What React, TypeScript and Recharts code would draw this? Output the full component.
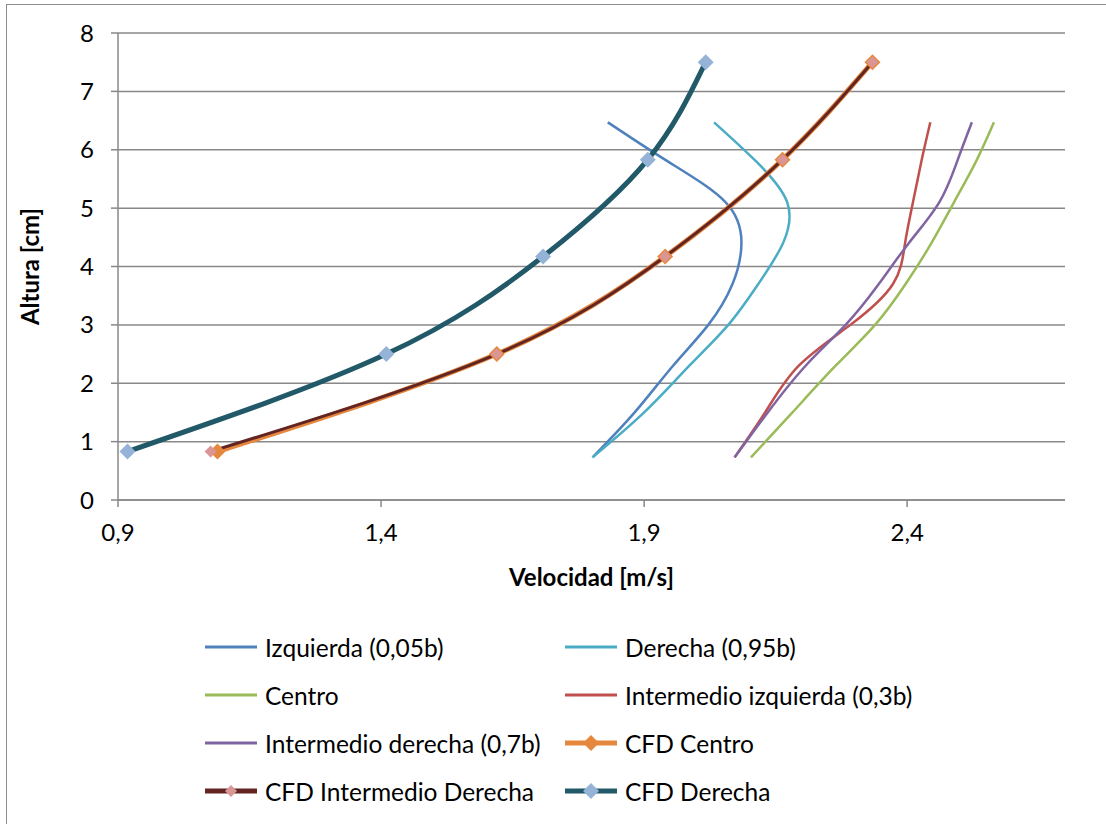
import { LineChart, Line, XAxis, YAxis, CartesianGrid, Label } from 'recharts'

// alturas medidas (cm) y velocidades (m/s)
const expHeights = [0.73, 1.5, 2.3, 3.0, 3.7, 4.4, 5.1, 5.8, 6.47]
const izquierdaVel = [1.802, 1.882, 1.955, 2.022, 2.068, 2.085, 2.055, 1.945, 1.831]
const derechaVel = [1.802, 1.9, 1.986, 2.06, 2.117, 2.164, 2.172, 2.113, 2.033]
const centroVel = [2.103, 2.182, 2.264, 2.339, 2.397, 2.446, 2.489, 2.531, 2.565]
const intIzqVel = [2.072, 2.13, 2.194, 2.292, 2.373, 2.396, 2.411, 2.427, 2.444]
const intDerVel = [2.072, 2.135, 2.207, 2.283, 2.346, 2.403, 2.461, 2.495, 2.523]

const cfdHeights = [0.83, 2.5, 4.17, 5.83, 7.5]
const cfdCentroVel = [1.089, 1.62, 1.94, 2.163, 2.334]
const cfdIntDerVel = [1.076, 1.62, 1.94, 2.163, 2.334]
const cfdDerechaVel = [0.918, 1.41, 1.708, 1.907, 2.017]

const xTicks = [0.9, 1.4, 1.9, 2.4]
const yTicks = [0, 1, 2, 3, 4, 5, 6, 7, 8]

const toPoints = (vel: number[], h: number[]) => vel.map((v, i) => ({ x: v, y: h[i] }))

const FONT = "Lato, 'Open Sans', sans-serif"
const FS = 24

const series = [
  { name: 'Izquierda (0,05b)', data: toPoints(izquierdaVel, expHeights), color: '#4F81BD', width: 2.5 },
  { name: 'Derecha (0,95b)', data: toPoints(derechaVel, expHeights), color: '#4BACC6', width: 2.5 },
  { name: 'Centro', data: toPoints(centroVel, expHeights), color: '#9BBB59', width: 2.5 },
  { name: 'Intermedio izquierda (0,3b)', data: toPoints(intIzqVel, expHeights), color: '#C0504D', width: 2.5 },
  { name: 'Intermedio derecha (0,7b)', data: toPoints(intDerVel, expHeights), color: '#8064A2', width: 2.5 },
  { name: 'CFD Centro', data: toPoints(cfdCentroVel, cfdHeights), color: '#E5873D', width: 5, marker: '#E5873D', r: 8 },
  { name: 'CFD Intermedio Derecha', data: toPoints(cfdIntDerVel, cfdHeights), color: '#632523', width: 3, marker: '#D99694', r: 6 },
  { name: 'CFD Derecha', data: toPoints(cfdDerechaVel, cfdHeights), color: '#215968', width: 5, marker: '#95B3D7', r: 8 },
]

function diamond(fill: string, r: number) {
  return (props: any) => {
    const { cx, cy, index } = props
    if (cx == null || cy == null) return <g key={index} />
    return (
      <path
        key={index}
        d={`M${cx},${cy - r}L${cx + r},${cy}L${cx},${cy + r}L${cx - r},${cy}Z`}
        fill={fill}
      />
    )
  }
}

function LegendItem({ s }: { s: any }) {
  return (
    <div style={{ display: 'flex', alignItems: 'center', height: 48, whiteSpace: 'nowrap' }}>
      <svg width={56} height={18} style={{ marginRight: 6 }}>
        <line x1={2} y1={9} x2={54} y2={9} stroke={s.color} strokeWidth={s.marker ? 5 : 3} />
        {s.marker && (
          <path d={`M28,${9 - s.r}L${28 + s.r},9L28,${9 + s.r}L${28 - s.r},9Z`} fill={s.marker} />
        )}
      </svg>
      <span>{s.name}</span>
    </div>
  )
}

export default function App() {
  const fmt = (v: number) => String(v).replace('.', ',')
  return (
    <div style={{ position: 'absolute', left: 0, top: 0, width: 1106, height: 824, background: '#fff', fontFamily: FONT, overflow: 'hidden' }}>
      <div style={{ position: 'absolute', left: 6, top: 4, width: 1200, height: 900, borderLeft: '1.5px solid #8c8c8c', borderTop: '1.5px solid #8c8c8c' }} />
      <div style={{ position: 'absolute', left: 0, top: 0 }}>
        <LineChart width={1106} height={824} margin={{ top: 33, right: 41, left: 0, bottom: 228 }}>
          <CartesianGrid vertical={false} stroke="#888" strokeWidth={1.5} />
          <XAxis
            type="number"
            dataKey="x"
            domain={[0.9, 2.7]}
            ticks={xTicks}
            tickFormatter={fmt}
            allowDataOverflow
            height={96}
            tickSize={7}
            tickMargin={17}
            stroke="#888"
            strokeWidth={1.5}
            tick={{ fill: '#000', fontSize: FS, fontFamily: FONT }}
          >
            <Label value="Velocidad [m/s]" position="insideBottom" offset={10} style={{ fontWeight: 700, fontSize: FS, fill: '#000', fontFamily: FONT }} />
          </XAxis>
          <YAxis
            type="number"
            dataKey="y"
            domain={[0, 8]}
            ticks={yTicks}
            width={118}
            tickSize={7}
            tickMargin={17}
            stroke="#888"
            strokeWidth={1.5}
            tick={{ fill: '#000', fontSize: FS, fontFamily: FONT }}
          >
            <Label value="Altura [cm]" angle={-90} position="insideLeft" offset={30} style={{ fontWeight: 700, fontSize: FS, fill: '#000', fontFamily: FONT, textAnchor: 'middle' }} />
          </YAxis>
          {series.map((s) => (
            <Line
              key={s.name}
              data={s.data}
              dataKey="y"
              name={s.name}
              type="natural"
              stroke={s.color}
              strokeWidth={s.width}
              dot={s.marker ? diamond(s.marker, s.r as number) : false}
              activeDot={false}
              isAnimationActive={false}
            />
          ))}
        </LineChart>
      </div>
      <div style={{ position: 'absolute', left: 203, top: 623, fontSize: 24.5, color: '#000', display: 'grid', gridTemplateColumns: '360px 400px' }}>
        {series.map((s) => (
          <LegendItem key={s.name} s={s} />
        ))}
      </div>
    </div>
  )
}
